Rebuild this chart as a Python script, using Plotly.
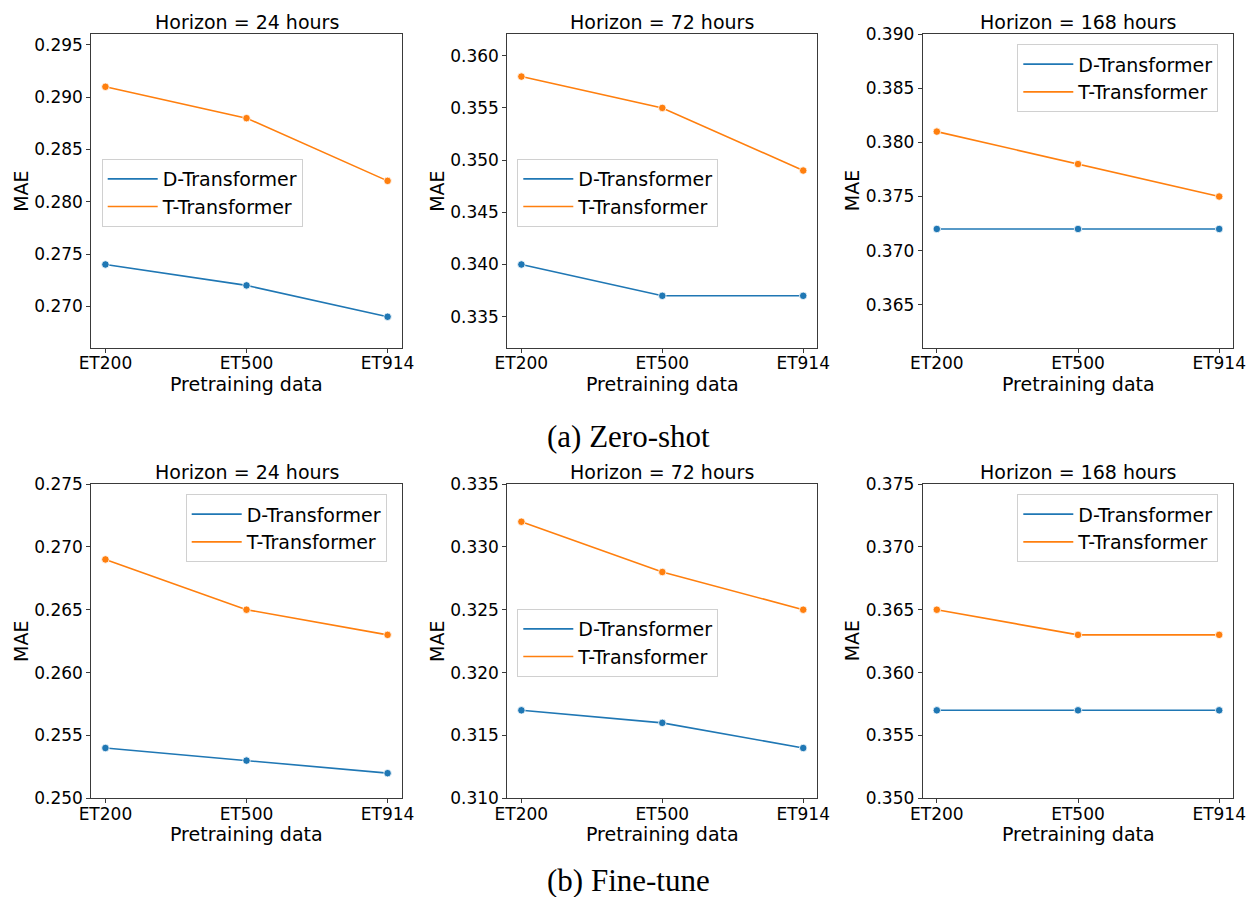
import plotly.graph_objects as go

# ---------------- data ----------------
categories = ["ET200", "ET500", "ET914"]
series_names = ["D-Transformer", "T-Transformer"]

zs_24_d = [0.274, 0.272, 0.269]
zs_24_t = [0.291, 0.288, 0.282]
zs_72_d = [0.340, 0.337, 0.337]
zs_72_t = [0.358, 0.355, 0.349]
zs_168_d = [0.372, 0.372, 0.372]
zs_168_t = [0.381, 0.378, 0.375]

ft_24_d = [0.254, 0.253, 0.252]
ft_24_t = [0.269, 0.265, 0.263]
ft_72_d = [0.317, 0.316, 0.314]
ft_72_t = [0.332, 0.328, 0.325]
ft_168_d = [0.357, 0.357, 0.357]
ft_168_t = [0.365, 0.363, 0.363]

horizons = ["Horizon = 24 hours", "Horizon = 72 hours", "Horizon = 168 hours"]
captions = ["(a) Zero-shot", "(b) Fine-tune"]

# ---------------- styling / layout ----------------
W, H = 1249, 897
COLORS = ["#1f77b4", "#ff7f0e"]
FONT = "DejaVu Sans"

# plot-area pixel boxes (left, right) and (top, bottom)
col_px = [(91.3, 401.7), (507.3, 817.3), (922.7, 1233.3)]
row_px = [(34.0, 348.0), (484.0, 798.3)]

yranges = [
    [[0.26601, 0.29605], [0.3320, 0.36208], [0.3610, 0.39002]],
    [[0.250, 0.275], [0.310, 0.335], [0.350, 0.375]],
]
ytick_lists = [
    [[0.270, 0.275, 0.280, 0.285, 0.290, 0.295],
     [0.335, 0.340, 0.345, 0.350, 0.355, 0.360],
     [0.365, 0.370, 0.375, 0.380, 0.385, 0.390]],
    [[0.250, 0.255, 0.260, 0.265, 0.270, 0.275],
     [0.310, 0.315, 0.320, 0.325, 0.330, 0.335],
     [0.350, 0.355, 0.360, 0.365, 0.370, 0.375]],
]
legend_px = [
    [(101.7, 159.0), (517.3, 159.0), (1017.3, 44.3)],
    [(185.7, 494.3), (517.3, 609.0), (1017.3, 494.3)],
]

panels = [
    [(zs_24_d, zs_24_t), (zs_72_d, zs_72_t), (zs_168_d, zs_168_t)],
    [(ft_24_d, ft_24_t), (ft_72_d, ft_72_t), (ft_168_d, ft_168_t)],
]


def px_x(x):
    return x / W


def px_y(y):
    return 1 - y / H


fig = go.Figure()
layout = dict(
    width=W, height=H, autosize=False,
    margin=dict(l=0, r=0, t=0, b=0, pad=0, autoexpand=False),
    paper_bgcolor="white", plot_bgcolor="white",
    font=dict(family=FONT, color="black"),
    annotations=[],
)

idx = 0
for r in range(2):
    for c in range(3):
        idx += 1
        suffix = "" if idx == 1 else str(idx)
        xa, ya = "x" + suffix, "y" + suffix
        leg = "legend" if idx == 1 else "legend" + str(idx)
        d_vals, t_vals = panels[r][c]
        for s, vals in enumerate([d_vals, t_vals]):
            fig.add_trace(go.Scatter(
                x=categories, y=vals, mode="lines", name=series_names[s],
                line=dict(color=COLORS[s], width=1.6),
                xaxis=xa, yaxis=ya, legend=leg, legendgroup=f"g{idx}_{s}",
                showlegend=True, hoverinfo="skip",
            ))
        for s, vals in enumerate([d_vals, t_vals]):
            fig.add_trace(go.Scatter(
                x=categories, y=vals, mode="markers", name=series_names[s],
                marker=dict(color=COLORS[s], size=7.5, line=dict(color="white", width=0.8)),
                xaxis=xa, yaxis=ya, showlegend=False, hoverinfo="skip",
            ))
        l, rr = col_px[c]
        t, b = row_px[r]
        axis_common = dict(
            showline=True, linecolor="#3a3a3a", linewidth=1, mirror=True,
            showgrid=False, zeroline=False, ticks="outside", ticklen=4,
            tickwidth=1, tickcolor="#3a3a3a", automargin=False,
            tickfont=dict(family=FONT, size=17, color="black"),
        )
        layout["xaxis" + suffix] = dict(
            axis_common, domain=[px_x(l), px_x(rr)], anchor=ya,
            type="category", range=[-0.1, 2.1], ticklabelstandoff=-4,
        )
        layout["yaxis" + suffix] = dict(
            axis_common, domain=[px_y(b), px_y(t)], anchor=xa,
            range=yranges[r][c], tickvals=ytick_lists[r][c],
            ticktext=[f"{v:.3f}" for v in ytick_lists[r][c]],
        )
        lx, ly = legend_px[r][c]
        layout[leg] = dict(
            x=px_x(lx), y=px_y(ly), xanchor="left", yanchor="top",
            xref="paper", yref="paper",
            bgcolor="rgba(255,255,255,0.8)", bordercolor="#d0d0d0", borderwidth=1,
            font=dict(family=FONT, size=19, color="black"),
            traceorder="grouped", tracegroupgap=0, itemwidth=50,
        )
        cx = (l + rr) / 2
        # subplot title
        layout["annotations"].append(dict(
            text=horizons[c], x=px_x(cx), y=px_y(t - 12.5), xref="paper", yref="paper",
            xanchor="center", yanchor="middle", showarrow=False,
            font=dict(family=FONT, size=19, color="black"),
        ))
        # x axis title
        layout["annotations"].append(dict(
            text="Pretraining data", x=px_x(cx), y=px_y(b + 36), xref="paper", yref="paper",
            xanchor="center", yanchor="middle", showarrow=False,
            font=dict(family=FONT, size=19, color="black"),
        ))
        # y axis title
        layout["annotations"].append(dict(
            text="MAE", x=px_x(l - 70.5), y=px_y((t + b) / 2), xref="paper", yref="paper",
            xanchor="center", yanchor="middle", textangle=-90, showarrow=False,
            font=dict(family=FONT, size=19, color="black"),
        ))

# captions
for r, ypx in enumerate([436.0, 880.0]):
    layout["annotations"].append(dict(
        text=captions[r], x=px_x(628), y=px_y(ypx), xref="paper", yref="paper",
        xanchor="center", yanchor="middle", showarrow=False,
        font=dict(family="Liberation Serif", size=31, color="black"),
    ))

fig.update_layout(**layout)
fig.write_html(
    "out.html",
    config={"displayModeBar": False},
    post_script="document.body.style.margin='0';document.body.style.overflow='hidden';",
)
